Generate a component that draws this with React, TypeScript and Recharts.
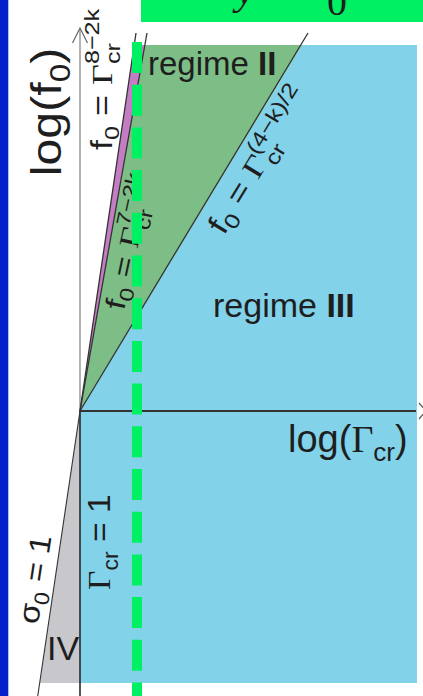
import React from 'react'
import {
  ComposedChart,
  Area,
  Line,
  XAxis,
  YAxis,
  ReferenceArea,
  ReferenceDot,
} from 'recharts'

// axes: x = log(Γcr), y = log(f0); the regimes meet at the origin
const X_DOMAIN = [-0.8, 3.43]
const Y_DOMAIN = [-2.85, 4.11]

// shaded regimes as [low, high] bands along log(Γcr)
const regimeIII = [
  { x: 0, band: [-2.72, 0] },
  { x: 2.22, band: [-2.72, 3.66] },
  { x: 3.37, band: [-2.72, 3.66] },
]
const regimeII = [
  { x: 0, band: [0, 0] },
  { x: 0.649, band: [1.07, 3.66] },
  { x: 2.22, band: [3.66, 3.66] },
]
const sliver = [
  { x: 0, band: [0, 0] },
  { x: 0.542, band: [3.06, 3.66] },
  { x: 0.649, band: [3.66, 3.66] },
]
const regimeIV = [
  { x: -0.4, band: [-2.72, -2.72] },
  { x: 0, band: [-2.72, 0] },
]

// boundary lines f0 = Γcr^a
const line8 = [{ x: 0, y: 0 }, { x: 0.56, y: 3.78 }]
const line7 = [{ x: 0, y: 0 }, { x: 0.67, y: 3.78 }]
const lineHalf = [{ x: 0, y: 0 }, { x: 2.28, y: 3.78 }]
const sigmaLine = [{ x: 0, y: 0 }, { x: -0.43, y: -2.9 }]

// axes and arrow heads
const yAxisUp = [{ x: 0, y: 0 }, { x: 0, y: 3.82 }]
const yAxisDown = [{ x: 0, y: 0 }, { x: 0, y: -2.9 }]
const yArrow = [{ x: -0.075, y: 3.68 }, { x: 0, y: 3.83 }, { x: 0.075, y: 3.68 }]
const xAxisLine = [{ x: 0, y: 0 }, { x: 3.36, y: 0 }]
const xArrow = [{ x: 3.39, y: 0.08 }, { x: 3.46, y: 0 }, { x: 3.39, y: -0.08 }]

// Γcr marker
const marker = [{ x: 0.57, y: 3.69 }, { x: 0.57, y: -2.9 }]

const INK = '#1e1e1e'
const EDGE = '#333'
const SANS = '"Liberation Sans", Arial, sans-serif'
const SERIF = '"Liberation Serif", "Times New Roman", serif'

type TagProps = {
  cx?: number
  cy?: number
  angle?: number
  stretch?: number
  size: number
  anchor?: 'start' | 'middle' | 'end'
  family?: string
  italic?: boolean
  children: React.ReactNode
}

function Tag({ cx = 0, cy = 0, angle = 0, stretch = 1, size, anchor = 'start', family = SANS, italic, children }: TagProps) {
  return (
    <text
      transform={`translate(${cx},${cy}) rotate(${angle}) scale(${stretch},1)`}
      textAnchor={anchor}
      fontSize={size}
      fontFamily={family}
      fontStyle={italic ? 'italic' : 'normal'}
      fill={INK}
      style={{ whiteSpace: 'pre' }}
    >
      {children}
    </text>
  )
}

// f0 = Γcr^exp, with "cr" stacked under the exponent
function PowerLaw({ size, exp }: { size: number; exp: string }) {
  const s = size * 0.7
  return (
    <>
      <tspan>f</tspan>
      <tspan fontSize={s} dy={size * 0.22}>0</tspan>
      <tspan dy={-size * 0.22}> = </tspan>
      <tspan fontFamily={SERIF}>Γ</tspan>
      <tspan fontSize={s} dy={size * 0.28}>cr</tspan>
      <tspan fontSize={s} dx={-s * 0.833} dy={-size * 0.72}>{exp}</tspan>
    </>
  )
}

const at = (x: number, y: number, node: (p: any) => React.ReactElement) => (
  <ReferenceDot x={x} y={y} r={0} ifOverflow="visible" shape={node} />
)

export default function App() {
  const band = { type: 'linear' as const, dataKey: 'band', stroke: 'none', fillOpacity: 1, isAnimationActive: false, dot: false, activeDot: false }
  const edge = { type: 'linear' as const, dataKey: 'y', dot: false, activeDot: false, isAnimationActive: false }

  return (
    <div style={{ position: 'absolute', left: 0, top: 0, background: '#fff' }}>
      <ComposedChart width={423} height={696} margin={{ top: 0, right: 0, bottom: 0, left: 0 }}>
        <XAxis type="number" dataKey="x" domain={X_DOMAIN} allowDataOverflow hide />
        <YAxis type="number" domain={Y_DOMAIN} allowDataOverflow hide />

        <ReferenceArea x1={-0.8} x2={-0.717} y1={-2.85} y2={4.11} fill="#0322cc" fillOpacity={1} stroke="none" />
        <ReferenceArea x1={0.61} x2={3.43} y1={3.89} y2={4.11} fill="#00f064" fillOpacity={1} stroke="none" />

        <Area data={regimeIII} {...band} fill="#82d2ea" />
        <Area data={regimeII} {...band} fill="#7dbe87" />
        <Area data={sliver} {...band} fill="#c47cc2" />
        <Area data={regimeIV} {...band} fill="#c8c8cc" />

        <Line data={yAxisUp} {...edge} stroke="#808080" strokeWidth={1.2} />
        <Line data={yAxisDown} {...edge} stroke="#2a2a2a" strokeWidth={1.6} />
        <Line data={yArrow} {...edge} stroke="#666" strokeWidth={1.2} />
        <Line data={xAxisLine} {...edge} stroke="#333" strokeWidth={1.8} />
        <Line data={xArrow} {...edge} stroke="#555" strokeWidth={1.2} />

        <Line data={line8} {...edge} stroke={EDGE} strokeWidth={1.3} />
        <Line data={line7} {...edge} stroke={EDGE} strokeWidth={1.3} />
        <Line data={lineHalf} {...edge} stroke={EDGE} strokeWidth={1.3} />
        <Line data={sigmaLine} {...edge} stroke={EDGE} strokeWidth={1.1} />

        {at(-0.19, 2.99, (p) => (
          <Tag cx={p.cx} cy={p.cy} angle={-90} stretch={1.15} size={42} anchor="middle">
            log(f<tspan fontSize={29} dy={9}>0</tspan><tspan dy={-9}>)</tspan>
          </Tag>
        ))}
        {at(0.32, 2.61, (p) => (
          <Tag cx={p.cx} cy={p.cy} angle={-90} stretch={1.2} size={30}>
            <PowerLaw size={30} exp="8−2k" />
          </Tag>
        ))}
        {at(0.44, 1.0, (p) => (
          <Tag cx={p.cx} cy={p.cy} angle={-78} stretch={1.25} size={28}>
            <PowerLaw size={28} exp="7−2k" />
          </Tag>
        ))}
        {at(1.44, 1.75, (p) => (
          <Tag cx={p.cx} cy={p.cy} angle={-58.6} stretch={1.2} size={30}>
            <PowerLaw size={30} exp="(4−k)/2" />
          </Tag>
        ))}
        {at(-0.42, -2.14, (p) => (
          <Tag cx={p.cx} cy={p.cy} angle={-81.3} stretch={1.1} size={30}>
            σ<tspan fontSize={21} dy={7}>0</tspan><tspan dy={-7}> = 1</tspan>
          </Tag>
        ))}
        {at(0.3, -1.79, (p) => (
          <Tag cx={p.cx} cy={p.cy} angle={-90} stretch={1.05} size={32}>
            <tspan fontFamily={SERIF}>Γ</tspan>
            <tspan fontSize={22} dy={8}>cr</tspan>
            <tspan dy={-8}> = 1</tspan>
          </Tag>
        ))}
        {at(-0.33, -2.49, (p) => (
          <Tag cx={p.cx} cy={p.cy} size={34}>IV</Tag>
        ))}
        {at(0.68, 3.36, (p) => (
          <Tag cx={p.cx} cy={p.cy} size={33}>
            regime <tspan fontWeight="bold">II</tspan>
          </Tag>
        ))}
        {at(1.33, 0.94, (p) => (
          <Tag cx={p.cx} cy={p.cy} size={34}>
            regime <tspan fontWeight="bold">III</tspan>
          </Tag>
        ))}
        {at(2.08, -0.41, (p) => (
          <Tag cx={p.cx} cy={p.cy} size={38}>
            log(<tspan fontFamily={SERIF}>Γ</tspan>
            <tspan fontSize={26} dy={9}>cr</tspan>
            <tspan dy={-9}>)</tspan>
          </Tag>
        ))}
        {at(1.56, 4.07, (p) => (
          <Tag cx={p.cx} cy={p.cy} size={42} family={SERIF} italic>y</Tag>
        ))}
        {at(2.47, 3.96, (p) => (
          <Tag cx={p.cx} cy={p.cy} size={40} family={SERIF}>0</Tag>
        ))}

        <Line data={marker} {...edge} stroke="#00f064" strokeWidth={10} strokeDasharray="31 11.7" zIndex={2000} />
      </ComposedChart>
    </div>
  )
}
